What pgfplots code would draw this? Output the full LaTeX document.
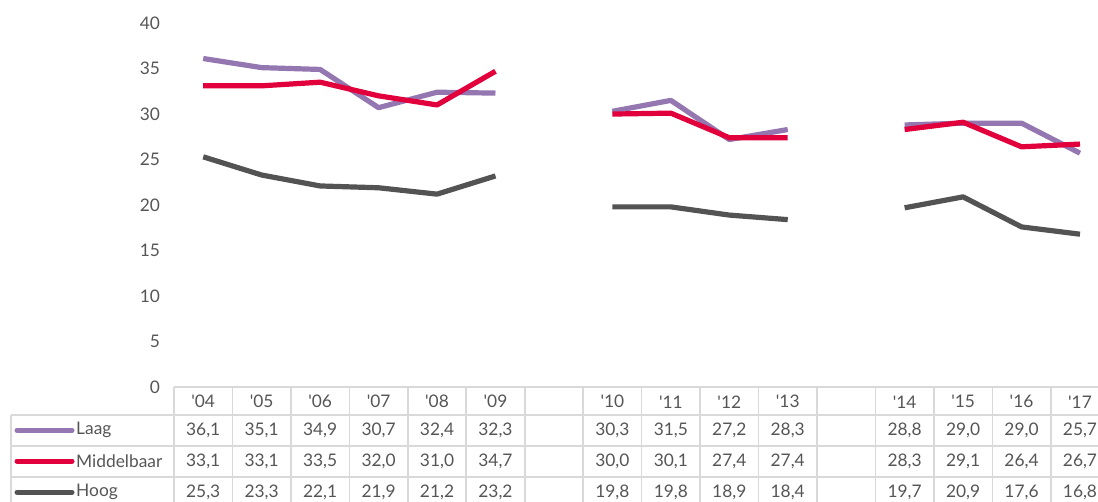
\documentclass[border=0pt]{standalone}
\usepackage{fontspec}
\setmainfont{Lato}
\usepackage{pgfplots}
\usepackage{pgfplotstable}
\pgfplotsset{compat=1.18}
\definecolor{laag}{HTML}{9477B1}
\definecolor{midd}{HTML}{E1003C}
\definecolor{hoog}{HTML}{535353}
\definecolor{txt}{HTML}{555555}
\definecolor{grd}{HTML}{D9D9D9}
\pgfplotstableread{
x laag mid hoog
0 36.1 33.1 25.3
1 35.1 33.1 23.3
2 34.9 33.5 22.1
3 30.7 32.0 21.9
4 32.4 31.0 21.2
5 32.3 34.7 23.2
6 nan nan nan
7 30.3 30.0 19.8
8 31.5 30.1 19.8
9 27.2 27.4 18.9
10 28.3 27.4 18.4
11 nan nan nan
12 28.8 28.3 19.7
13 29.0 29.1 20.9
14 29.0 26.4 17.6
15 25.7 26.7 16.8
}\data
\newcommand{\tfont}{\fontsize{13}{15}\selectfont}
\begin{document}
\begin{tikzpicture}
\begin{axis}[
  scale only axis,
  width=701.25pt, height=273pt,
  xmin=-0.5, xmax=15.5, ymin=0, ymax=40,
  clip=false,
  axis line style={draw=none},
  major tick length=0pt,
  ytick={0,5,...,40},
  xtick={0,1,2,3,4,5,7,8,9,10,12,13,14,15},
  xticklabels={\textquotesingle04,\textquotesingle05,\textquotesingle06,\textquotesingle07,\textquotesingle08,\textquotesingle09,\textquotesingle10,\textquotesingle11,\textquotesingle12,\textquotesingle13,\textquotesingle14,\textquotesingle15,\textquotesingle16,\textquotesingle17},
  xticklabel style={anchor=center, yshift=-11pt},
  yticklabel style={anchor=east, xshift=-7pt},
  every tick label/.append style={font=\tfont, text=txt},
  /pgf/number format/assume math mode=true,
  unbounded coords=jump,
]
% grid of the table
\pgfplotsinvokeforeach{-0.5,0.5,1.5,2.5,3.5,4.5,5.5,6.5,7.5,8.5,9.5,10.5,11.5,12.5,13.5,14.5,15.5}{
  \draw[grd, line width=1.2pt] (axis cs:#1,0) -- (axis cs:#1,-13.5);
}
\draw[grd, line width=1.2pt] (axis cs:-3.289,-3.08) -- (axis cs:-3.289,-13.5);
\draw[grd, line width=1.2pt] (axis cs:-0.5,0) -- (axis cs:15.5,0);
\draw[grd, line width=1.2pt] (axis cs:-3.289,-3.08) -- (axis cs:15.5,-3.08);
\draw[grd, line width=1.2pt] (axis cs:-3.289,-6.48) -- (axis cs:15.5,-6.48);
\draw[grd, line width=1.2pt] (axis cs:-3.289,-9.89) -- (axis cs:15.5,-9.89);
\draw[grd, line width=1.2pt] (axis cs:-3.289,-13.3) -- (axis cs:15.5,-13.3);
% legend column
\draw[laag, line width=3.75pt, line cap=round] (axis cs:-3.186,-4.73) -- (axis cs:-2.245,-4.73);
\draw[midd, line width=3.75pt, line cap=round] (axis cs:-3.186,-8.13) -- (axis cs:-2.245,-8.13);
\draw[hoog, line width=3.75pt, line cap=round] (axis cs:-3.186,-11.54) -- (axis cs:-2.245,-11.54);
\node[anchor=west, text=txt, font=\tfont, inner sep=0pt] at (axis cs:-2.177,-4.73) {Laag};
\node[anchor=west, text=txt, font=\tfont, inner sep=0pt] at (axis cs:-2.177,-8.13) {Middelbaar};
\node[anchor=west, text=txt, font=\tfont, inner sep=0pt] at (axis cs:-2.177,-11.54) {Hoog};
% lines
\addplot[laag, line width=3.9pt, line join=round, mark=none] table[x=x,y=laag]{\data};
\addplot[midd, line width=3.9pt, line join=round, mark=none] table[x=x,y=mid]{\data};
\addplot[hoog, line width=3.9pt, line join=round, mark=none] table[x=x,y=hoog]{\data};
% table values
\addplot[draw=none, mark=none, forget plot, nodes near coords, point meta=explicit,
  skip coords between index={6}{7}, skip coords between index={11}{12},
  every node near coord/.style={anchor=center, text=txt, font=\tfont, /pgf/number format/.cd, fixed, fixed zerofill, precision=1, use comma}]
  table[x=x, y expr=-4.73, meta=laag]{\data};
\addplot[draw=none, mark=none, forget plot, nodes near coords, point meta=explicit,
  skip coords between index={6}{7}, skip coords between index={11}{12},
  every node near coord/.style={anchor=center, text=txt, font=\tfont, /pgf/number format/.cd, fixed, fixed zerofill, precision=1, use comma}]
  table[x=x, y expr=-8.13, meta=mid]{\data};
\addplot[draw=none, mark=none, forget plot, nodes near coords, point meta=explicit,
  skip coords between index={6}{7}, skip coords between index={11}{12},
  every node near coord/.style={anchor=center, text=txt, font=\tfont, /pgf/number format/.cd, fixed, fixed zerofill, precision=1, use comma}]
  table[x=x, y expr=-11.54, meta=hoog]{\data};
\coordinate (bbsw) at (axis cs:-3.477,-12.53);
\coordinate (bbne) at (axis cs:15.308,42.53);
\end{axis}
\pgfresetboundingbox
\useasboundingbox (bbsw) rectangle (bbne);
\end{tikzpicture}
\end{document}
